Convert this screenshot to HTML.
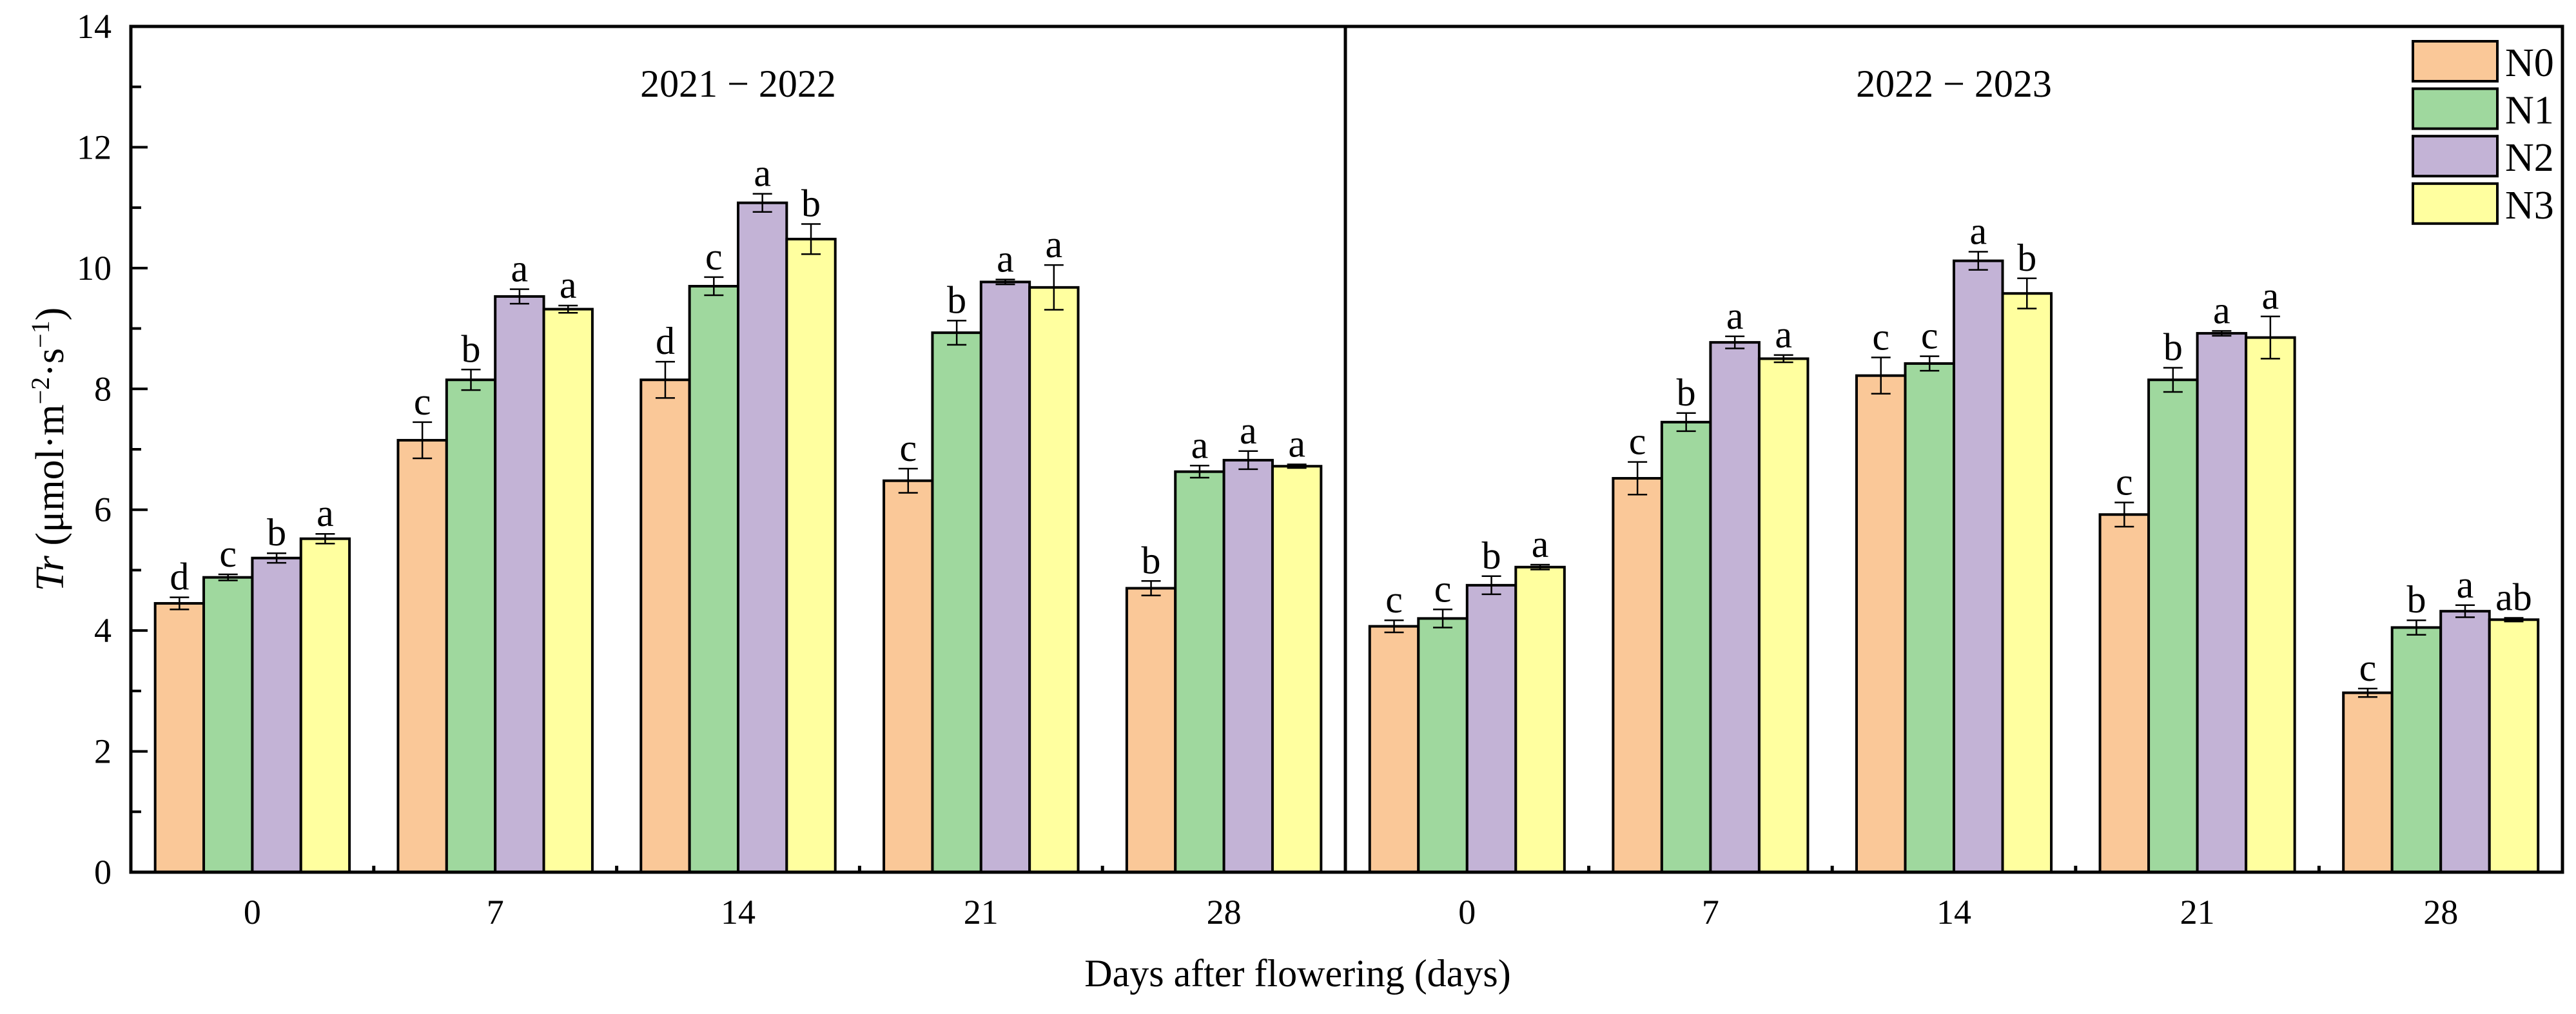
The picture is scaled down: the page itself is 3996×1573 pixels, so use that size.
<!DOCTYPE html>
<html><head><meta charset="utf-8"><style>
html,body{margin:0;padding:0;background:#fff;}
svg{display:block;font-family:"Liberation Serif","DejaVu Serif",serif;}
</style></head><body>
<svg id="chart" width="3996" height="1573" viewBox="0 0 3996 1573" xmlns="http://www.w3.org/2000/svg">
<g id="plot"></g>
</svg>
<script>
const categories = ["0","7","14","21","28"];
const seriesNames = ["N0","N1","N2","N3"];
const panelTitles = ["2021 − 2022","2022 − 2023"];
const yTicks = [0,2,4,6,8,10,12,14];
// panel 1 (2021-2022)
const p1N0 = [4.45,7.15,8.15,6.48,4.70];
const p1N1 = [4.88,8.15,9.70,8.93,6.63];
const p1N2 = [5.20,9.53,11.08,9.77,6.82];
const p1N3 = [5.52,9.32,10.48,9.68,6.72];
const p1N0e = [0.10,0.30,0.30,0.20,0.12];
const p1N1e = [0.05,0.17,0.15,0.20,0.10];
const p1N2e = [0.08,0.12,0.15,0.04,0.15];
const p1N3e = [0.08,0.06,0.25,0.37,0.03];
const p1L = [["d","c","d","c","b"],["c","b","c","b","a"],["b","a","a","a","a"],["a","a","b","a","a"]];
// panel 2 (2022-2023)
const p2N0 = [4.07,6.52,8.22,5.92,2.97];
const p2N1 = [4.20,7.45,8.42,8.15,4.05];
const p2N2 = [4.75,8.77,10.12,8.92,4.32];
const p2N3 = [5.05,8.50,9.58,8.85,4.18];
const p2N0e = [0.10,0.27,0.30,0.20,0.07];
const p2N1e = [0.15,0.15,0.12,0.20,0.12];
const p2N2e = [0.15,0.10,0.15,0.04,0.10];
const p2N3e = [0.04,0.06,0.25,0.35,0.03];
const p2L = [["c","c","c","c","c"],["c","b","c","b","b"],["b","a","a","a","a"],["a","a","b","a","ab"]];

const colors = ["#FAC898","#9FD89E","#C3B3D6","#FFFF9F"];
const NS="http://www.w3.org/2000/svg";
const g=document.getElementById('plot');
const L=203,R=3975,T=41,B=1353,MID=2087;
const yMax=14;
function y(v){return B-(v/yMax)*(B-T);}
function el(tag,attrs,parent){const e=document.createElementNS(NS,tag);for(const k in attrs)e.setAttribute(k,attrs[k]);(parent||g).appendChild(e);return e;}

const panels=[
 {x0:L,x1:MID,vals:[p1N0,p1N1,p1N2,p1N3],errs:[p1N0e,p1N1e,p1N2e,p1N3e],lets:p1L,title:panelTitles[0]},
 {x0:MID,x1:R,vals:[p2N0,p2N1,p2N2,p2N3],errs:[p2N0e,p2N1e,p2N2e,p2N3e],lets:p2L,title:panelTitles[1]}
];
panels.forEach((p,pi)=>{
  const s=(p.x1-p.x0)/5;
  const bw=s*0.2;
  categories.forEach((c,ci)=>{
    const cx=p.x0+s*(ci+0.5);
    for(let si=0;si<4;si++){
      const v=p.vals[si][ci], e=p.errs[si][ci];
      const bx=cx-2*bw+si*bw;
      const r=el('rect',{x:bx,y:y(v),width:bw,height:B-y(v),fill:colors[si],stroke:'#000','stroke-width':4});
      
      
      const mx=bx+bw/2;
      const eb=el('path',{d:`M${mx},${y(v+e)}V${y(v-e)}M${mx-15},${y(v+e)}H${mx+15}M${mx-15},${y(v-e)}H${mx+15}`,stroke:'#000','stroke-width':2.5,fill:'none'});
      
      
      const t=el('text',{x:mx,y:y(v+e)-12,'font-size':60,'text-anchor':'middle',fill:'#000'});
      t.textContent=p.lets[si][ci];
      
      
    }
    const xl=el('text',{x:cx,y:B+80,'font-size':54,'text-anchor':'middle'});
    xl.textContent=c;
    
    
    if(ci>0){
      const tk=el('line',{x1:p.x0+s*ci,x2:p.x0+s*ci,y1:B,y2:B-10,stroke:'#000','stroke-width':5});
      
      
    }
  });
  const tt=el('text',{x:(p.x0+p.x1)/2,y:150,'font-size':60,'text-anchor':'middle'});
  tt.textContent=p.title;
  
  
});
for(let v=0;v<=yMax;v++){
  const major=v%2===0;
  const tk=el('line',{x1:L,x2:L+(major?26:16),y1:y(v),y2:y(v),stroke:'#000','stroke-width':4});
  
  
}
yTicks.forEach(v=>{
  const t=el('text',{x:L-30,y:y(v)+18,'font-size':54,'text-anchor':'end'});
  t.textContent=v;
  
  
});
const fr=el('rect',{x:L,y:T,width:R-L,height:B-T,fill:'none',stroke:'#000','stroke-width':5});


const dv=el('line',{x1:MID,x2:MID,y1:T,y2:B,stroke:'#000','stroke-width':5});


seriesNames.forEach((n,i)=>{
  const yy=64+i*73.6;
  const r=el('rect',{x:3743,y:yy,width:131,height:62,fill:colors[i],stroke:'#000','stroke-width':4});
  
  
  const t=el('text',{x:3886,y:yy+54,'font-size':62});
  t.textContent=n;
  
  
});
const xt=el('text',{x:2013,y:1530,'font-size':60,'text-anchor':'middle'});
xt.textContent='Days after flowering (days)';


const yt=el('text',{transform:'translate(98,697) rotate(-90)','font-size':62,'text-anchor':'middle'});
yt.innerHTML='<tspan font-style="italic">Tr</tspan> (μmol·m<tspan font-size="40" dy="-22">−2</tspan><tspan dy="22">·s</tspan><tspan font-size="40" dy="-22">−1</tspan><tspan dy="22">)</tspan>';


</script>
</body></html>
